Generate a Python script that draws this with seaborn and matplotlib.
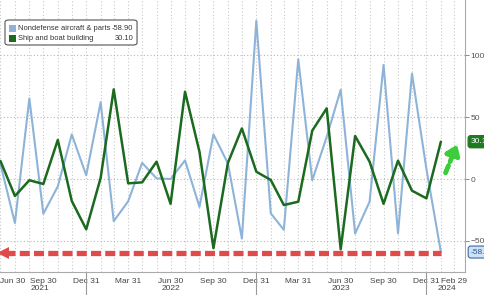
import matplotlib
matplotlib.use("Agg")
import matplotlib.pyplot as plt
import matplotlib.dates as mdates
import matplotlib.transforms as mtrans
from matplotlib.patches import Rectangle, FancyBboxPatch
import seaborn as sns
import pandas as pd
import numpy as np

# ---- data ----
dates = pd.date_range("2021-06-30", periods=32, freq="ME")
aircraft = [12, -35.5, 65, -28, -6, 36, 3, 62, -34, -18, 13, 0.5, 0, 15, -22.5, 36,
            12.6, -48, 127.7, -27.7, -41, 96.5, -1, 34, 72, -44, -18.3, 92, -43.8, 85, 8, -58.9]
ships = [14.5, -13.7, -1, -4, 31.5, -17.7, -40.6, 1, 72.3, -3.5, -2.7, 14, -20, 70.4, 22, -55.8,
         13, 40.8, 5.9, -0.8, -21, -18.3, 39, 57, -56.7, 34.7, 14, -20, 14.8, -9.4, -15.6, 30.1]
series_names = ["Nondefense aircraft & parts", "Ship and boat building"]
last_values = ["-58.90", "30.10"]
quarter_ticks = ["2021-06-30", "2021-09-30", "2021-12-31", "2022-03-31", "2022-06-30", "2022-09-30",
                 "2022-12-31", "2023-03-31", "2023-06-30", "2023-09-30", "2023-12-31", "2024-02-29"]
quarter_labels = ["Jun 30", "Sep 30", "Dec 31", "Mar 31", "Jun 30", "Sep 30",
                  "Dec 31", "Mar 31", "Jun 30", "Sep 30", "Dec 31", "Feb 29"]
year_labels = ["2021", "2022", "2023", "2024"]
year_label_pos = ["2021-09-22", "2022-06-30", "2023-06-30", "2024-02-14"]
year_breaks = ["2021-12-31", "2022-12-31", "2023-12-31"]
y_ticks = [-50, 0, 50, 100]

blue = "#8db4d8"
green = "#1c6a1f"

df = pd.DataFrame({
    "date": list(dates) * 2,
    "value": aircraft + ships,
    "series": [series_names[0]] * len(dates) + [series_names[1]] * len(dates),
})

sns.set_theme(style="white")
plt.rcParams["font.family"] = ["Liberation Sans", "DejaVu Sans"]
fs = 5.7

fig = plt.figure(figsize=(4.85, 2.95), dpi=100)
ax = fig.add_axes([0.0, 0.078, 0.959, 0.922])

sns.lineplot(data=df, x="date", y="value", hue="series", palette=[blue, green],
             linewidth=1.7, ax=ax, legend=False)
ax.lines[0].set_linewidth(1.5)
ax.lines[1].set_linewidth(1.8)

x0 = pd.Timestamp("2021-06-29")
x1 = pd.Timestamp("2024-03-23")
ax.set_xlim(x0, x1)
ax.set_ylim(-75, 144.4)

# grid
months = pd.date_range("2021-06-30", "2024-03-31", freq="ME")
ax.xaxis.set_minor_locator(matplotlib.ticker.FixedLocator(mdates.date2num(months)))
qt = mdates.date2num(pd.to_datetime(quarter_ticks))
ax.set_xticks(qt)
ax.set_xticklabels(quarter_labels)
ax.xaxis.grid(True, which="both", linestyle=(0, (1, 2)), color="#c8c8c8", linewidth=0.8)
ax.yaxis.grid(True, linestyle=(0, (1, 2)), color="#b8b8b8", linewidth=0.8)
ax.set_yticks(y_ticks)
ax.yaxis.tick_right()
ax.tick_params(axis="y", which="major", length=3, width=0.7, color="#888888",
               labelsize=fs + 0.3, labelcolor="#555555", pad=1, direction="out")
ax.tick_params(axis="x", which="major", length=3, width=0.6, color="#999999",
               labelsize=fs + 0.3, labelcolor="#444444", pad=1)
ax.tick_params(axis="x", which="minor", length=2, width=0.5, color="#aaaaaa")
ax.get_xticklabels()[0].set_horizontalalignment("left")
ax.set_xlabel("")
ax.set_ylabel("")
for s in ["top", "left"]:
    ax.spines[s].set_visible(False)
for s in ["bottom", "right"]:
    ax.spines[s].set_color("#aaaaaa")
    ax.spines[s].set_linewidth(0.8)

trans_x = mtrans.blended_transform_factory(ax.transData, ax.transAxes)
for lab, pos in zip(year_labels, year_label_pos):
    ax.text(mdates.date2num(pd.Timestamp(pos)), -(289 - 272) / 272, lab, transform=trans_x,
            ha="center", va="center", fontsize=fs + 0.3, color="#444444")
for yb in year_breaks:
    xb = mdates.date2num(pd.Timestamp(yb))
    ax.plot([xb, xb], [0, -0.09], transform=trans_x, color="#999999", lw=0.8, clip_on=False)

# red dashed arrow
red = "#e04a4a"
xr = mdates.date2num([pd.Timestamp("2021-07-10"), dates[-1]])
ax.plot(xr, [-60, -60], color=red, lw=3.8, dashes=(1.9, 0.8), solid_capstyle="butt", zorder=5)
ax.plot([mdates.date2num(pd.Timestamp("2021-07-06"))], [-60], marker="<", ms=8, color=red,
        markeredgewidth=0, zorder=5)

# green dashed arrow
ax.annotate("", xy=(mdates.date2num(pd.Timestamp("2024-03-06")), 28),
            xytext=(mdates.date2num(pd.Timestamp("2024-02-10")), 5),
            arrowprops=dict(arrowstyle="-|>,head_length=0.5,head_width=0.35", lw=3.5,
                            color="#3ccc3c", linestyle=(0, (1.6, 0.9)), shrinkA=0, shrinkB=0))

# last value boxes
trans_y = mtrans.blended_transform_factory(ax.transAxes, ax.transData)
ax.text(1.012, 30.1, last_values[1], transform=trans_y, fontsize=fs + 0.3, color="white",
        va="center", ha="left",
        bbox=dict(boxstyle="round,pad=0.3", facecolor="#1f7a22", edgecolor="#1f7a22"), clip_on=False)
ax.text(1.012, -58.9, last_values[0], transform=trans_y, fontsize=fs + 0.3, color="#2a5a98",
        va="center", ha="left",
        bbox=dict(boxstyle="round,pad=0.3", facecolor="#cfe1f4", edgecolor="#3a6aa8", lw=0.8),
        clip_on=False)

# legend (manual, in axes fraction)
W, H = 465.0, 272.0
def ax_xy(px, py):
    return px / W, 1 - py / H
lx, ly = ax_xy(5, 45)
rx, ry = ax_xy(137, 20)
ax.add_patch(FancyBboxPatch((lx, ly), rx - lx, ry - ly, boxstyle="round,pad=0,rounding_size=0.008",
                            transform=ax.transAxes, facecolor="white", edgecolor="#555555",
                            lw=0.8, zorder=6))
for i, (name, val, col) in enumerate(zip(series_names, last_values, [blue, green])):
    cy = 29 + i * 9.5
    px, py = ax_xy(9, cy + 3.5)
    ax.add_patch(Rectangle((px, py), 6.5 / W, 7 / H, transform=ax.transAxes,
                           facecolor=col, edgecolor="none", zorder=7))
    tx, ty = ax_xy(18, cy)
    ax.text(tx, ty, name, transform=ax.transAxes, fontsize=5.4, color="#333333",
            va="center", ha="left", zorder=7)
    vx, vy = ax_xy(133, cy)
    ax.text(vx, vy, val, transform=ax.transAxes, fontsize=5.4, color="#333333",
            va="center", ha="right", zorder=7)

fig.savefig("out.png", dpi=100)
